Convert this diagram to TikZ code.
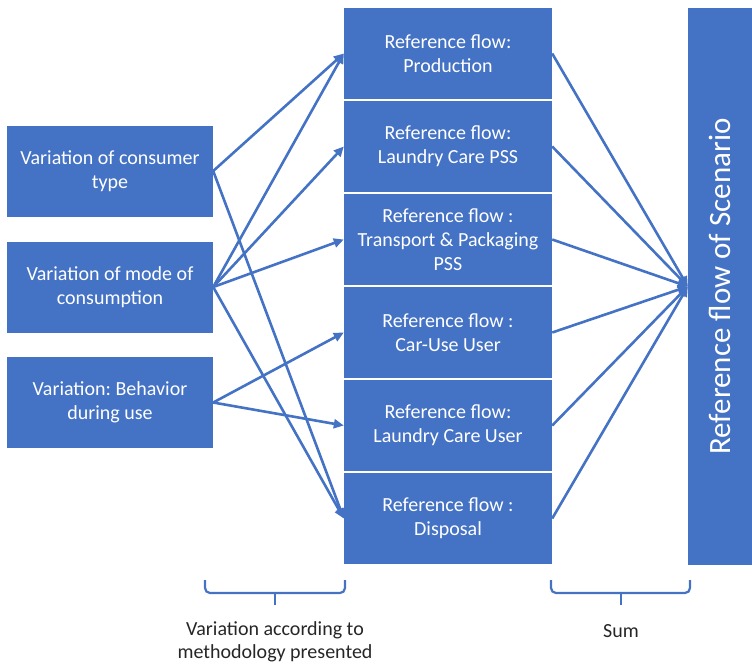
\documentclass[tikz,border=0pt]{standalone}
\usepackage{fontspec}
\setmainfont{Carlito}
\frenchspacing
\usetikzlibrary{arrows.meta}
\definecolor{boxblue}{RGB}{68,114,196}
\definecolor{labelgray}{RGB}{38,38,38}

\tikzset{
  varbox/.style={fill=boxblue, text=white, minimum width=206pt, minimum height=91pt,
    align=center, inner sep=2pt, font=\fontsize{20}{24}\selectfont},
  flowbox/.style={varbox, minimum width=208pt},
  link/.style={draw=boxblue, line width=2.6pt, -{Triangle[length=10pt,width=9pt]}},
  bracket/.style={draw=boxblue, line width=2.2pt, rounded corners=5pt},
  caption/.style={text=labelgray, align=center, font=\fontsize{20}{23}\selectfont}
}

\begin{document}
\begin{tikzpicture}[x=1pt, y=-1pt]
\useasboundingbox (0,0) rectangle (752,664);

% Variation boxes (left column):
\node[varbox] (vcons) at (110,171)   {Variation of consumer\\type};
\node[varbox] (vmode) at (110,287)   {Variation of mode of\\consumption};
\node[varbox] (vbeh)  at (110,402.5) {Variation: Behavior\\during use};

% Reference flow boxes (middle column, pitch 93):
\node[flowbox] (fprod)  at (448,53.5)  {Reference flow:\\Production};
\node[flowbox] (flpss)  at (448,146.5) {Reference flow:\\Laundry Care PSS};
\node[flowbox] (ftpss)  at (448,239.5) {Reference flow :\\Transport \& Packaging\\PSS};
\node[flowbox] (fcar)   at (448,332.5) {Reference flow :\\Car-Use User};
\node[flowbox] (fluser) at (448,425.5) {Reference flow:\\Laundry Care User};
\node[flowbox] (fdisp)  at (448,518.5) {Reference flow :\\Disposal};

% Scenario box (right), rotated: its north anchor faces left
\node[fill=boxblue, text=white, rotate=90, minimum width=557pt, minimum height=64pt,
  font=\fontsize{31}{36}\selectfont] (scen) at (720,286.5) {Reference flow of Scenario};

% Variations -> reference flows:
\draw[link] (vcons.east) -- (fprod.west);
\draw[link] (vcons.east) -- (fdisp.west);
\draw[link] (vmode.east) -- (fprod.west);
\draw[link] (vmode.east) -- (flpss.west);
\draw[link] (vmode.east) -- (ftpss.west);
\draw[link] (vmode.east) -- (fdisp.west);
\draw[link] (vbeh.east)  -- (fcar.west);
\draw[link] (vbeh.east)  -- (fluser.west);

% Reference flows -> scenario:
\draw[link] (fprod.east)  -- (scen.north);
\draw[link] (flpss.east)  -- (scen.north);
\draw[link] (ftpss.east)  -- (scen.north);
\draw[link] (fcar.east)   -- (scen.north);
\draw[link] (fluser.east) -- (scen.north);
\draw[link] (fdisp.east)  -- (scen.north);

% Brackets and their captions:
\draw[bracket] (205,580) -- (205,593) -- (345,593) -- (345,580);
\draw[bracket] (275,593) -- (275,605);
\draw[bracket] (551,580) -- (551,593) -- (690,593) -- (690,580);
\draw[bracket] (621,593) -- (621,605);

\node[caption] (cvar) at (275,642) {Variation according to\\methodology presented};
\node[caption] (csum) at (621,631) {Sum};

\end{tikzpicture}
\end{document}
